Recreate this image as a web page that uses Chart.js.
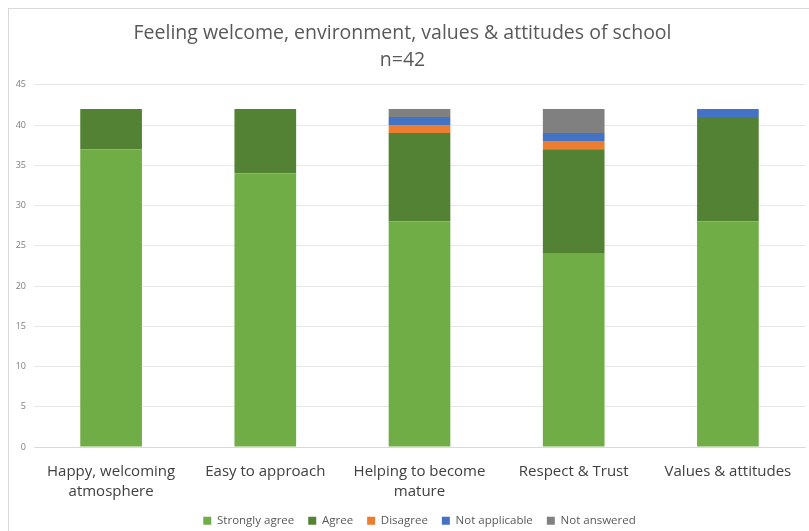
<!DOCTYPE html>
<html>
<head>
<meta charset="utf-8">
<script src="https://cdn.jsdelivr.net/npm/chart.js@4.4.1/dist/chart.umd.min.js"></script>
<style>
  html, body { margin: 0; padding: 0; background: #fff; }
  #wrap { position: relative; width: 809px; height: 531px; }
  #frame { position: absolute; left: 8px; top: 8px; width: 810px; height: 530px; border: 1px solid #d9d9d9; box-sizing: border-box; pointer-events: none; }
  canvas { position: absolute; left: 0; top: 0; }
</style>
</head>
<body>
<div id="wrap">
  <canvas id="chart" width="809" height="531"></canvas>
  <div id="frame"></div>
</div>
<script>
// Categories and series
const categories = [
  ['Happy, welcoming', 'atmosphere'],
  'Easy to approach',
  ['Helping to become', 'mature'],
  'Respect & Trust',
  'Values & attitudes'
];
const stronglyAgree = [37, 34, 28, 24, 28];
const agree = [5, 8, 11, 13, 13];
const disagree = [0, 0, 1, 1, 0];
const notApplicable = [0, 0, 1, 1, 1];
const notAnswered = [0, 0, 1, 3, 0];

const yMax = 45;
const yStep = 5;

const FONT = "'Open Sans', 'Liberation Sans', sans-serif";

const ctx = document.getElementById('chart').getContext('2d');

new Chart(ctx, {
  type: 'bar',
  data: {
    labels: categories,
    datasets: [
      { label: 'Strongly agree', data: stronglyAgree, backgroundColor: '#70AD47' },
      { label: 'Agree', data: agree, backgroundColor: '#548235' },
      { label: 'Disagree', data: disagree, backgroundColor: '#ED7D31' },
      { label: 'Not applicable', data: notApplicable, backgroundColor: '#4472C4' },
      { label: 'Not answered', data: notAnswered, backgroundColor: '#808080' }
    ]
  },
  options: {
    responsive: false,
    animation: false,
    layout: { padding: { left: 0, right: 4, top: 0, bottom: -5.5 } },
    datasets: {
      bar: { categoryPercentage: 0.4, barPercentage: 1.0, borderWidth: 0 }
    },
    plugins: {
      title: {
        display: true,
        text: ['Feeling welcome, environment, values & attitudes of school', 'n=42'],
        color: '#595959',
        font: { family: FONT, size: 19.5, weight: 'normal', lineHeight: 1.43 },
        padding: { top: 19, bottom: 10 }
      },
      legend: {
        position: 'bottom',
        fullSize: false,
        labels: {
          color: '#595959',
          font: { family: FONT, size: 11.5 },
          boxWidth: 8,
          boxHeight: 8,
          padding: 14
        }
      },
      tooltip: { enabled: false }
    },
    scales: {
      x: {
        stacked: true,
        grid: { display: false, drawTicks: false },
        border: { display: true, color: '#d9d9d9' },
        ticks: {
          color: '#404040',
          font: { family: FONT, size: 15, lineHeight: 1.3 },
          padding: 15.25,
          maxRotation: 0
        },
        afterFit: (scale) => { scale.height = 54; }
      },
      y: {
        stacked: true,
        min: 0,
        max: yMax,
        grid: { color: '#e7e7e7', drawTicks: false },
        border: { display: false },
        ticks: {
          stepSize: yStep,
          color: '#7f7f7f',
          font: { family: FONT, size: 9 },
          padding: 8
        },
        afterFit: (scale) => { scale.width = 34; }
      }
    }
  }
});
</script>
</body>
</html>
